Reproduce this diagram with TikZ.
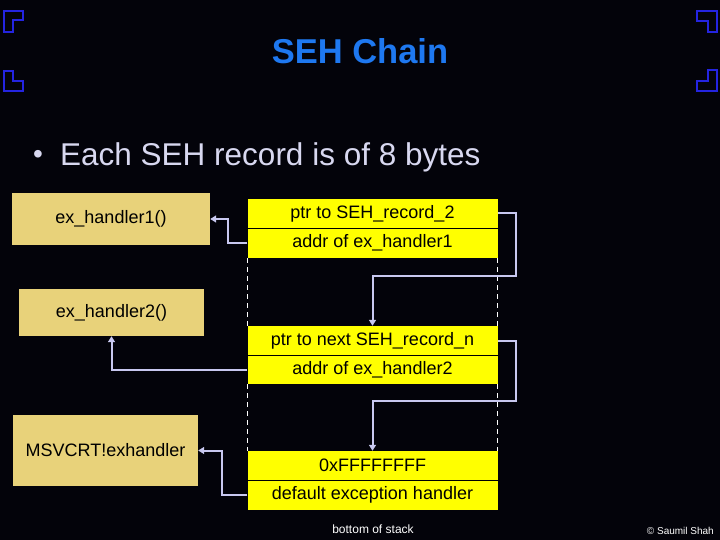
\documentclass[tikz,border=0pt]{standalone}
\usepackage{fontspec}
\setmainfont{Liberation Sans}
\usetikzlibrary{arrows.meta}
\definecolor{bg}{HTML}{03030A}
\definecolor{titleblue}{HTML}{1E78F0}
\definecolor{tanbox}{HTML}{E8D27A}
\definecolor{arrowc}{HTML}{C8C8F0}
\definecolor{bullettext}{HTML}{D8D8F0}
\definecolor{cornerblue}{HTML}{2424E0}
\definecolor{recyellow}{HTML}{FFFF00}
\begin{document}
\begin{tikzpicture}[x=1pt,y=-1pt,
  recbox/.style={fill=recyellow, draw=none, minimum width=250pt, inner sep=0pt, text=black, font=\fontsize{18}{20}\selectfont},
  handlerbox/.style={fill=tanbox, draw=none, inner sep=0pt, text=black, font=\fontsize{18}{20}\selectfont},
  divider/.style={black, line width=1pt},
  link/.style={arrowc, line width=2pt, -{Triangle[length=6pt,width=7pt]}},
  stackedge/.style={white, line width=1pt, dash pattern=on 5pt off 4pt},
  corner/.style={cornerblue, line width=1.6pt, line join=miter},
  smalltext/.style={text=white, inner sep=0pt}
]
\fill[bg] (0,0) rectangle (720,540);
\useasboundingbox (0,0) rectangle (720,540);

% corner decorations
\draw[corner] (4,11) -- (23,11) -- (23,20) -- (13,20) -- (13,32) -- (4,32) -- cycle;
\draw[corner] (4,71) -- (13,71) -- (13,81) -- (23,81) -- (23,91) -- (4,91) -- cycle;
\draw[corner] (697,11) -- (717,11) -- (717,32) -- (708,32) -- (708,21) -- (697,21) -- cycle;
\draw[corner] (708,70) -- (717,70) -- (717,91) -- (697,91) -- (697,81) -- (708,81) -- cycle;

% title and bullet
\node[text=titleblue, font=\fontsize{34.5}{38}\selectfont\bfseries] (title) at (360,51) {SEH Chain};
\node[text=bullettext, font=\fontsize{28}{30}\selectfont] (dot) at (38,157) {\textbullet};
\node[text=bullettext, anchor=west, inner sep=0pt, font=\fontsize{31.5}{34}\selectfont] (bullet) at (60,157) {Each SEH record is of 8 bytes};

% handler boxes
\node[handlerbox, minimum width=198pt, minimum height=52pt] (h1) at (111,219) {ex\_handler1()};
\node[handlerbox, minimum width=185pt, minimum height=47pt] (h2) at (111.5,312.5) {ex\_handler2()};
\node[handlerbox, minimum width=185pt, minimum height=71pt] (h3) at (105.5,450.5) {MSVCRT!exhandler};

% records
\node[recbox, minimum height=29pt] (r1a) at (372.5,213.5) {ptr to SEH\_record\_2};
\node[recbox, minimum height=30pt] (r1b) at (372.5,243) {addr of ex\_handler1};
\node[recbox, minimum height=29pt] (r2a) at (372.5,340.5) {ptr to next SEH\_record\_n};
\node[recbox, minimum height=29pt] (r2b) at (372.5,369.5) {addr of ex\_handler2};
\node[recbox, minimum height=29pt] (r3a) at (372.5,465.5) {0xFFFFFFFF};
\node[recbox, minimum height=30pt] (r3b) at (372.5,495) {default exception handler};

\draw[divider] (r1a.south west) -- (r1a.south east);
\draw[divider] (r2a.south west) -- (r2a.south east);
\draw[divider] (r3a.south west) -- (r3a.south east);

% stack edges
\draw[stackedge] (r1b.south west) -- (r2a.north west);
\draw[stackedge] (r1b.south east) -- (r2a.north east);
\draw[stackedge] (r2b.south west) -- (r3a.north west);
\draw[stackedge] (r2b.south east) -- (r3a.north east);

% links
\coordinate (c1) at (516,276);
\coordinate (c2) at (516,401);
\coordinate (k1) at (228,219);
\coordinate (k3) at (222,450.5);
\draw[link] (r1a.east) -| (c1) -| (r2a.north);
\draw[link] (r2a.east) -| (c2) -| (r3a.north);
\draw[link] (r1b.west) -| (k1) -- (h1.east);
\draw[link] (r2b.west) -| (h2.south);
\draw[link] (r3b.west) -| (k3) -- (h3.east);

% footer texts
\node[smalltext, font=\fontsize{12}{14}\selectfont] (bos) at (373,529) {bottom of stack};
\node[smalltext, font=\fontsize{10}{12}\selectfont, anchor=east] (copy) at (714,531) {© Saumil Shah};
\end{tikzpicture}
\end{document}
